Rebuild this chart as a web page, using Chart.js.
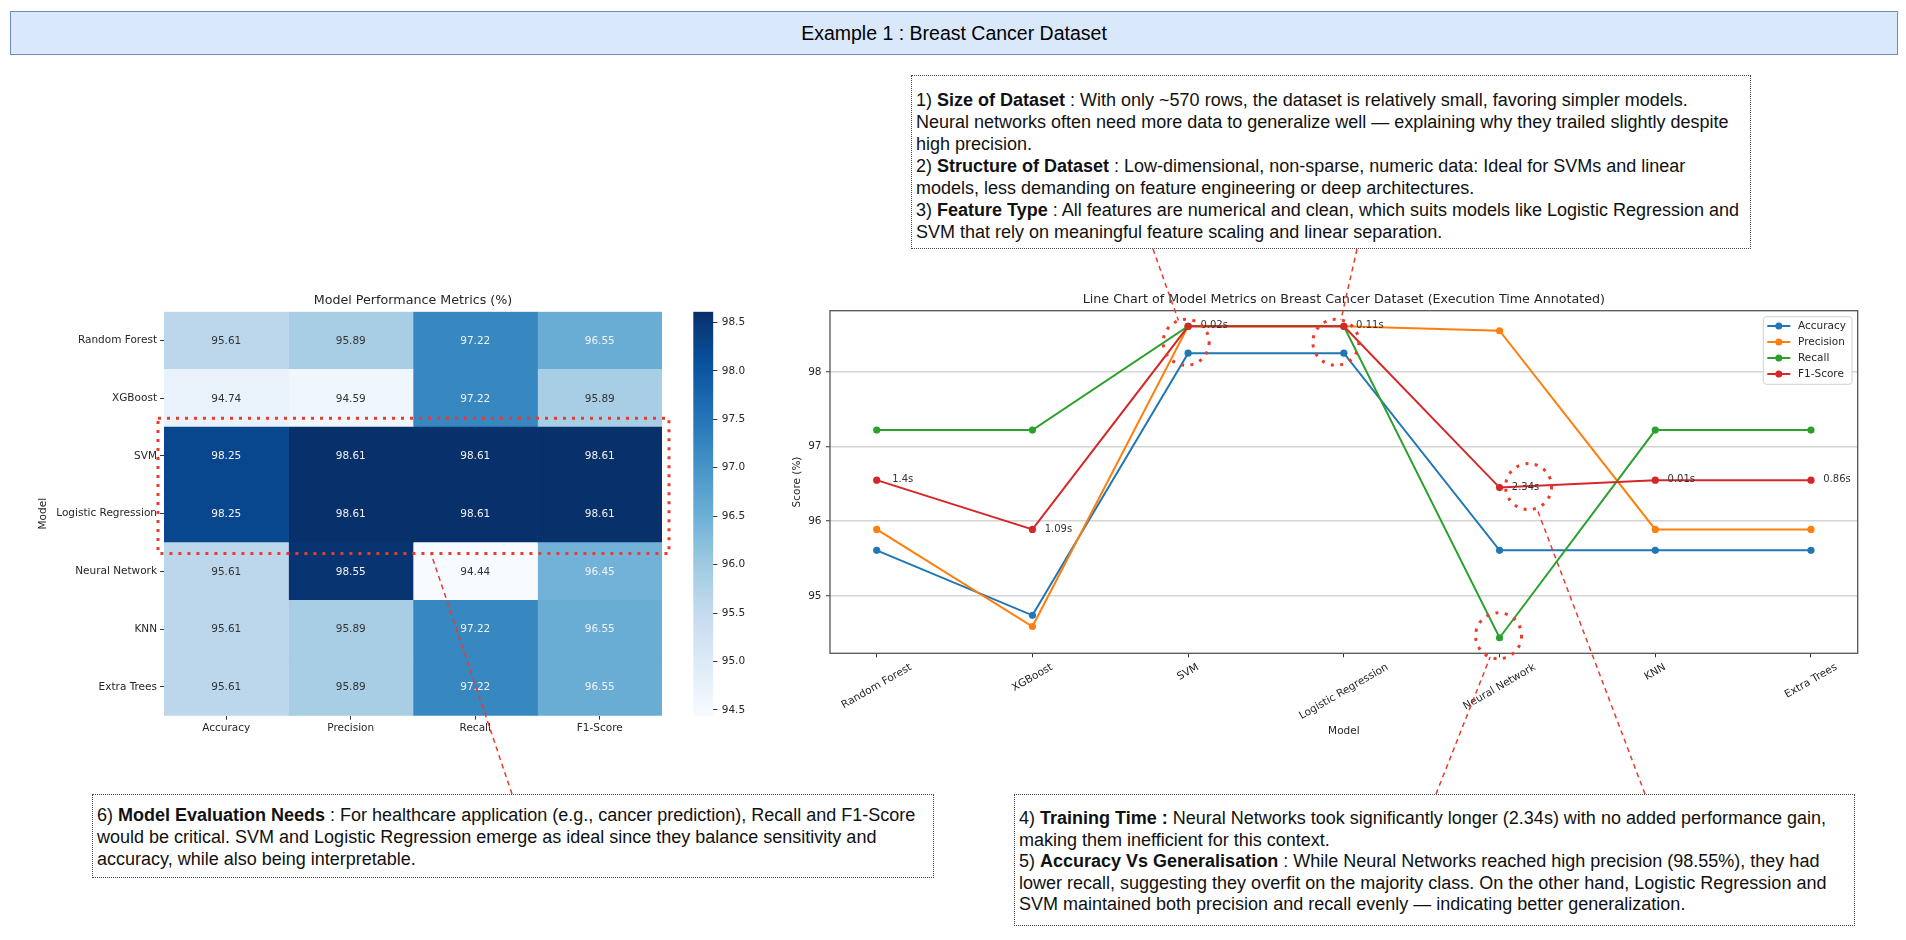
<!DOCTYPE html>
<html>
<head>
<meta charset="utf-8">
<script src="https://cdn.jsdelivr.net/npm/chart.js@4.4.1/dist/chart.umd.min.js"></script>
<style>
  html, body { margin: 0; background: #fff; }
  #page { position: relative; width: 1906px; height: 940px; overflow: hidden; }
  #page > * { position: absolute; }
  #titleBar {
    left: 10px; top: 11px; width: 1888px; height: 44px; box-sizing: border-box;
    background: #dae8fc; border: 1.5px solid #6c8ebf;
    font: 19.5px "Liberation Sans", Arial, sans-serif; color: #000;
    display: flex; align-items: center; justify-content: center;
  }
  .note {
    box-sizing: border-box; border: 1px dotted #444; background: #fff;
    font-family: "Liberation Sans", Arial, sans-serif; font-size: 18px;
    line-height: 22px; color: #111; white-space: nowrap; padding-left: 4px;
  }
  #noteTop { left: 911px; top: 75px; width: 840px; height: 174px; padding-top: 13px; }
  #noteRight { left: 1014px; top: 794px; width: 841px; height: 132px; padding-top: 13px; line-height: 21.5px; }
  #noteLeft { left: 92px; top: 794px; width: 842px; height: 84px; padding-top: 9px; }
  #heatCanvas { left: 20px; top: 280px; }
  #barCanvas { left: 680px; top: 280px; }
  #lineCanvas { left: 760px; top: 280px; }
  #overlay { left: 0; top: 0; pointer-events: none; z-index: 5; }
</style>
</head>
<body>
<div id="page">
  <div id="titleBar">Example 1 : Breast Cancer Dataset</div>

  <div class="note" id="noteTop">
    1) <b>Size of Dataset</b> : With only ~570 rows, the dataset is relatively small, favoring simpler models.<br>
    Neural networks often need more data to generalize well — explaining why they trailed slightly despite<br>
    high precision.<br>
    2) <b>Structure of Dataset</b> : Low-dimensional, non-sparse, numeric data: Ideal for SVMs and linear<br>
    models, less demanding on feature engineering or deep architectures.<br>
    3) <b>Feature Type</b> : All features are numerical and clean, which suits models like Logistic Regression and<br>
    SVM that rely on meaningful feature scaling and linear separation.
  </div>

  <div class="note" id="noteLeft">
    6) <b>Model Evaluation Needs</b> : For healthcare application (e.g., cancer prediction), Recall and F1-Score<br>
    would be critical. SVM and Logistic Regression emerge as ideal since they balance sensitivity and<br>
    accuracy, while also being interpretable.
  </div>

  <div class="note" id="noteRight">
    4) <b>Training Time :</b> Neural Networks took significantly longer (2.34s) with no added performance gain,<br>
    making them inefficient for this context.<br>
    5) <b>Accuracy Vs Generalisation</b> : While Neural Networks reached high precision (98.55%), they had<br>
    lower recall, suggesting they overfit on the majority class. On the other hand, Logistic Regression and<br>
    SVM maintained both precision and recall evenly — indicating better generalization.
  </div>

  <canvas id="heatCanvas" width="660" height="480"></canvas>
  <canvas id="barCanvas" width="80" height="480"></canvas>
  <canvas id="lineCanvas" width="1120" height="480"></canvas>
  <canvas id="overlay" width="1906" height="940"></canvas>
</div>

<script>
// models and metrics
const models = ["Random Forest", "XGBoost", "SVM", "Logistic Regression", "Neural Network", "KNN", "Extra Trees"];
const metrics = ["Accuracy", "Precision", "Recall", "F1-Score"];

// scores (%) per model, in the order of models
const accuracy = [95.61, 94.74, 98.25, 98.25, 95.61, 95.61, 95.61];
const precision = [95.89, 94.59, 98.61, 98.61, 98.55, 95.89, 95.89];
const recall = [97.22, 97.22, 98.61, 98.61, 94.44, 97.22, 97.22];
const f1Score = [96.55, 95.89, 98.61, 98.61, 96.45, 96.55, 96.55];

// execution time written next to each F1 point
const execTimes = ["1.4s", "1.09s", "0.02s", "0.11s", "2.34s", "0.01s", "0.86s"];

// tick labels
const colorbarTicks = [94.5, 95.0, 95.5, 96.0, 96.5, 97.0, 97.5, 98.0, 98.5];
const scoreTicks = [95, 96, 97, 98];

const metricSeries = [accuracy, precision, recall, f1Score];
const seriesColors = ["#1f77b4", "#ff7f0e", "#2ca02c", "#d62728"];

const mplFont = "'DejaVu Sans', Verdana, sans-serif";
const textColor = "#262626";
Chart.defaults.font.family = mplFont;
Chart.defaults.font.size = 10.5;
Chart.defaults.color = textColor;

// matplotlib "Blues"
const bluesStops = [
  [247, 251, 255], [222, 235, 247], [198, 219, 239], [158, 202, 225], [107, 174, 214],
  [66, 146, 198], [33, 113, 181], [8, 81, 156], [8, 48, 107],
];
const allValues = metricSeries.flat();
const vmin = Math.min(...allValues);
const vmax = Math.max(...allValues);

function bluesRgb(v) {
  let t = (v - vmin) / (vmax - vmin);
  t = Math.max(0, Math.min(1, t)) * 8;
  const k = Math.min(7, Math.floor(t));
  const f = t - k;
  const a = bluesStops[k], b = bluesStops[k + 1];
  return a.map((c, n) => Math.round(c + (b[n] - c) * f));
}
function rgbStr(c) { return `rgb(${c[0]},${c[1]},${c[2]})`; }

// like seaborn: light text on dark cells
function luminance(c) {
  const lin = c.map((x) => {
    x /= 255;
    return x <= 0.03928 ? x / 12.92 : Math.pow((x + 0.055) / 1.055, 2.4);
  });
  return 0.2126 * lin[0] + 0.7152 * lin[1] + 0.0722 * lin[2];
}

// title centered over the plot area
const areaTitle = {
  id: "areaTitle",
  afterDraw(chart, args, opts) {
    if (!opts.text) return;
    const { ctx, chartArea } = chart;
    ctx.save();
    ctx.font = `12.7px ${mplFont}`;
    ctx.fillStyle = textColor;
    ctx.textAlign = "center";
    ctx.textBaseline = "middle";
    ctx.fillText(opts.text, (chartArea.left + chartArea.right) / 2, chartArea.top - opts.gap);
    ctx.restore();
  },
};

// ---------- heatmap ----------
const cellLabels = {
  id: "cellLabels",
  afterDatasetsDraw(chart) {
    const { ctx } = chart;
    ctx.save();
    ctx.font = `10.5px ${mplFont}`;
    ctx.textAlign = "center";
    ctx.textBaseline = "middle";
    metricSeries.forEach((values, j) => {
      chart.getDatasetMeta(j).data.forEach((bar, i) => {
        const v = values[i];
        ctx.fillStyle = luminance(bluesRgb(v)) < 0.408 ? "#f2f2f2" : "#333333";
        ctx.fillText(v.toFixed(2), (bar.x + bar.base) / 2, bar.y + 0.5);
      });
    });
    ctx.restore();
  },
};

const heatChart = new Chart(document.getElementById("heatCanvas"), {
  type: "bar",
  data: {
    labels: models,
    datasets: metrics.map((name, j) => ({
      label: name,
      data: models.map(() => [j, j + 1]),
      backgroundColor: metricSeries[j].map((v) => rgbStr(bluesRgb(v))),
      borderWidth: 0,
      barPercentage: 1,
      categoryPercentage: 1,
      grouped: false,
    })),
  },
  options: {
    indexAxis: "y",
    responsive: false,
    animation: false,
    layout: { padding: { top: 31.7, right: 18, left: 0, bottom: 0 } },
    scales: {
      x: {
        type: "linear",
        min: 0,
        max: 4,
        afterBuildTicks: (s) => { s.ticks = metrics.map((m, j) => ({ value: j + 0.5 })); },
        ticks: { callback: (v, i) => metrics[i], padding: 2, maxRotation: 0 },
        grid: { drawOnChartArea: false, tickLength: 4, tickColor: "#333", tickWidth: 1 },
        border: { display: false },
        afterFit: (s) => { s.height = 44.3; },
      },
      y: {
        grid: { offset: false, drawOnChartArea: false, tickLength: 4, tickColor: "#333", tickWidth: 1 },
        border: { display: false },
        ticks: { padding: 3, autoSkip: false },
        title: { display: true, text: "Model", padding: { top: 16.7, bottom: 0 } },
        afterFit: (s) => { s.width = 144; },
      },
    },
    plugins: {
      legend: { display: false },
      tooltip: { enabled: false },
      areaTitle: { text: "Model Performance Metrics (%)", gap: 11.5 },
    },
  },
  plugins: [cellLabels, areaTitle],
});

// ---------- colorbar ----------
new Chart(document.getElementById("barCanvas"), {
  type: "bar",
  data: {
    labels: ["Score (%)"],
    datasets: [{
      data: [[vmin, vmax]],
      backgroundColor: (c) => {
        const { ctx, chartArea } = c.chart;
        if (!chartArea) return "#6baed6";
        const g = ctx.createLinearGradient(0, chartArea.bottom, 0, chartArea.top);
        bluesStops.forEach((rgb, k) => g.addColorStop(k / 8, rgbStr(rgb)));
        return g;
      },
      borderWidth: 0,
      barPercentage: 1,
      categoryPercentage: 1,
    }],
  },
  options: {
    responsive: false,
    animation: false,
    layout: { padding: { top: 31.7, left: 13.3, bottom: 44.3, right: 0 } },
    scales: {
      x: { display: false },
      y: {
        position: "right",
        min: vmin,
        max: vmax,
        afterBuildTicks: (s) => { s.ticks = colorbarTicks.map((v) => ({ value: v })); },
        ticks: { callback: (v) => v.toFixed(1), padding: 4.4 },
        grid: { drawOnChartArea: false, tickLength: 4, tickColor: "#333", tickWidth: 1 },
        border: { display: false },
        afterFit: (s) => { s.width = 46.7; },
      },
    },
    plugins: { legend: { display: false }, tooltip: { enabled: false } },
  },
});

// ---------- line chart ----------
const frameAndLabels = {
  id: "frameAndLabels",
  beforeDatasetsDraw(chart) {
    const { ctx, chartArea: a } = chart;
    ctx.save();
    ctx.strokeStyle = "#555";
    ctx.lineWidth = 1.3;
    ctx.strokeRect(a.left, a.top, a.right - a.left, a.bottom - a.top);
    ctx.restore();
  },
  afterDatasetsDraw(chart) {
    const { ctx, chartArea: a, scales } = chart;
    ctx.save();
    // rotated category labels, centered under each tick
    ctx.font = `10.5px ${mplFont}`;
    ctx.fillStyle = textColor;
    ctx.textAlign = "center";
    ctx.textBaseline = "middle";
    const ang = Math.PI / 6;
    models.forEach((name, i) => {
      const px = scales.x.getPixelForValue(i);
      const w = ctx.measureText(name).width;
      const boxH = w * Math.sin(ang) + 12 * Math.cos(ang);
      ctx.save();
      ctx.translate(px, a.bottom + 8 + boxH / 2);
      ctx.rotate(-ang);
      ctx.fillText(name, 0, 0);
      ctx.restore();
    });
    // execution time next to the F1 points
    ctx.font = `10px ${mplFont}`;
    ctx.fillStyle = "#333";
    chart.getDatasetMeta(3).data.forEach((pt, i) => {
      ctx.fillText(execTimes[i], pt.x + 26, pt.y - 0.5);
    });
    // legend box
    const bw = 88.7, bh = 67.6;
    const bx = a.right - 5.7 - bw, by = a.top + 6;
    ctx.fillStyle = "rgba(255,255,255,0.85)";
    ctx.strokeStyle = "#d0d0d0";
    ctx.lineWidth = 1;
    ctx.beginPath();
    ctx.roundRect(bx, by, bw, bh, 3);
    ctx.fill();
    ctx.stroke();
    ctx.font = `10.5px ${mplFont}`;
    ctx.textAlign = "left";
    metrics.forEach((name, j) => {
      const y = by + 9.3 + j * 16;
      ctx.strokeStyle = seriesColors[j];
      ctx.lineWidth = 2;
      ctx.beginPath();
      ctx.moveTo(bx + 4, y);
      ctx.lineTo(bx + 27, y);
      ctx.stroke();
      ctx.fillStyle = seriesColors[j];
      ctx.beginPath();
      ctx.arc(bx + 15.5, y, 3.5, 0, Math.PI * 2);
      ctx.fill();
      ctx.fillStyle = textColor;
      ctx.fillText(name, bx + 34.7, y + 0.5);
    });
    ctx.restore();
  },
};

const lineChart = new Chart(document.getElementById("lineCanvas"), {
  type: "line",
  data: {
    datasets: metrics.map((name, j) => ({
      label: name,
      data: metricSeries[j].map((v, i) => ({ x: i, y: v })),
      borderColor: seriesColors[j],
      backgroundColor: seriesColors[j],
      borderWidth: 2,
      pointRadius: 3.6,
      pointBorderWidth: 0,
      tension: 0,
      order: 3 - j,
    })),
  },
  options: {
    responsive: false,
    animation: false,
    layout: { padding: { top: 30.7, right: 22.3, left: 0, bottom: 0 } },
    scales: {
      x: {
        type: "linear",
        min: -0.3,
        max: 6.3,
        afterBuildTicks: (s) => { s.ticks = models.map((m, i) => ({ value: i })); },
        ticks: { display: false },
        grid: { drawOnChartArea: false, tickLength: 4, tickColor: "#333", tickWidth: 1 },
        border: { display: false },
        title: { display: true, text: "Model", padding: { top: 0, bottom: 22 } },
        afterFit: (s) => { s.height = 106.7; },
      },
      y: {
        min: 94.2315,
        max: 98.8185,
        afterBuildTicks: (s) => { s.ticks = scoreTicks.map((v) => ({ value: v })); },
        ticks: { padding: 4.5 },
        grid: { color: "#d4d4d4", lineWidth: 1.5, tickLength: 4, tickColor: "#333", tickWidth: 1 },
        border: { display: false },
        title: { display: true, text: "Score (%)", padding: { top: 30.5, bottom: 0 } },
        afterFit: (s) => { s.width = 70; },
      },
    },
    plugins: {
      legend: { display: false },
      tooltip: { enabled: false },
      areaTitle: { text: "Line Chart of Model Metrics on Breast Cancer Dataset (Execution Time Annotated)", gap: 10.7 },
    },
  },
  plugins: [frameAndLabels, areaTitle],
});

// ---------- red call-outs on top of everything ----------
const overlay = document.getElementById("overlay").getContext("2d");
const red = "#ec3b2b";

function pagePoint(canvasId, x, y) {
  const c = document.getElementById(canvasId);
  return { x: c.offsetLeft + x, y: c.offsetTop + y };
}
function boxAnchor(id, dx, side) {
  const el = document.getElementById(id);
  return { x: el.offsetLeft + dx, y: side === "top" ? el.offsetTop : el.offsetTop + el.offsetHeight };
}

function dottedCircle(c, r) {
  overlay.save();
  overlay.strokeStyle = red;
  overlay.lineWidth = 3;
  overlay.setLineDash([3, 6.5]);
  overlay.beginPath();
  overlay.arc(c.x, c.y, r, 0, Math.PI * 2);
  overlay.stroke();
  overlay.restore();
}
function dashedLine(p, q) {
  overlay.save();
  overlay.strokeStyle = red;
  overlay.lineWidth = 1.5;
  overlay.setLineDash([5, 4]);
  overlay.beginPath();
  overlay.moveTo(p.x, p.y);
  overlay.lineTo(q.x, q.y);
  overlay.stroke();
  overlay.restore();
}
function towards(center, r, from) {
  const dx = from.x - center.x, dy = from.y - center.y;
  const d = Math.hypot(dx, dy);
  return { x: center.x + (dx / d) * r, y: center.y + (dy / d) * r };
}

const f1Meta = lineChart.getDatasetMeta(3).data;
const recallMeta = lineChart.getDatasetMeta(2).data;
const R = 23;
const cSvm = pagePoint("lineCanvas", f1Meta[2].x - 2, f1Meta[2].y + 16);
const cLr = pagePoint("lineCanvas", f1Meta[3].x - 8, f1Meta[3].y + 16);
const cNnTime = pagePoint("lineCanvas", f1Meta[4].x + 29, f1Meta[4].y - 1);
const cNnRecall = pagePoint("lineCanvas", recallMeta[4].x - 1, recallMeta[4].y - 2);
[cSvm, cLr, cNnTime, cNnRecall].forEach((c) => dottedCircle(c, R));

// dotted frame round the SVM / Logistic Regression rows of the heatmap
const rowSvm = heatChart.getDatasetMeta(0).data[2];
const rowLr = heatChart.getDatasetMeta(0).data[3];
const hArea = heatChart.chartArea;
const rectTL = pagePoint("heatCanvas", hArea.left - 6, rowSvm.y - rowSvm.height / 2 - 9);
const rectBR = pagePoint("heatCanvas", hArea.right + 7, rowLr.y + rowLr.height / 2 + 11);
overlay.save();
overlay.strokeStyle = red;
overlay.lineWidth = 3;
overlay.setLineDash([3, 6]);
overlay.strokeRect(rectTL.x, rectTL.y, rectBR.x - rectTL.x, rectBR.y - rectTL.y);
overlay.restore();

// connectors from the notes to the call-outs
const topA = boxAnchor("noteTop", 242, "bottom");
const topB = boxAnchor("noteTop", 446, "bottom");
dashedLine(topA, towards(cSvm, R, topA));
dashedLine(topB, towards(cLr, R, topB));
const leftA = boxAnchor("noteLeft", 420, "top");
dashedLine(leftA, { x: rectTL.x + 273, y: rectBR.y });
const rightA = boxAnchor("noteRight", 422, "top");
const rightB = boxAnchor("noteRight", 631, "top");
dashedLine(rightA, towards(cNnRecall, R, rightA));
dashedLine(rightB, towards(cNnTime, R, rightB));
</script>
</body>
</html>
